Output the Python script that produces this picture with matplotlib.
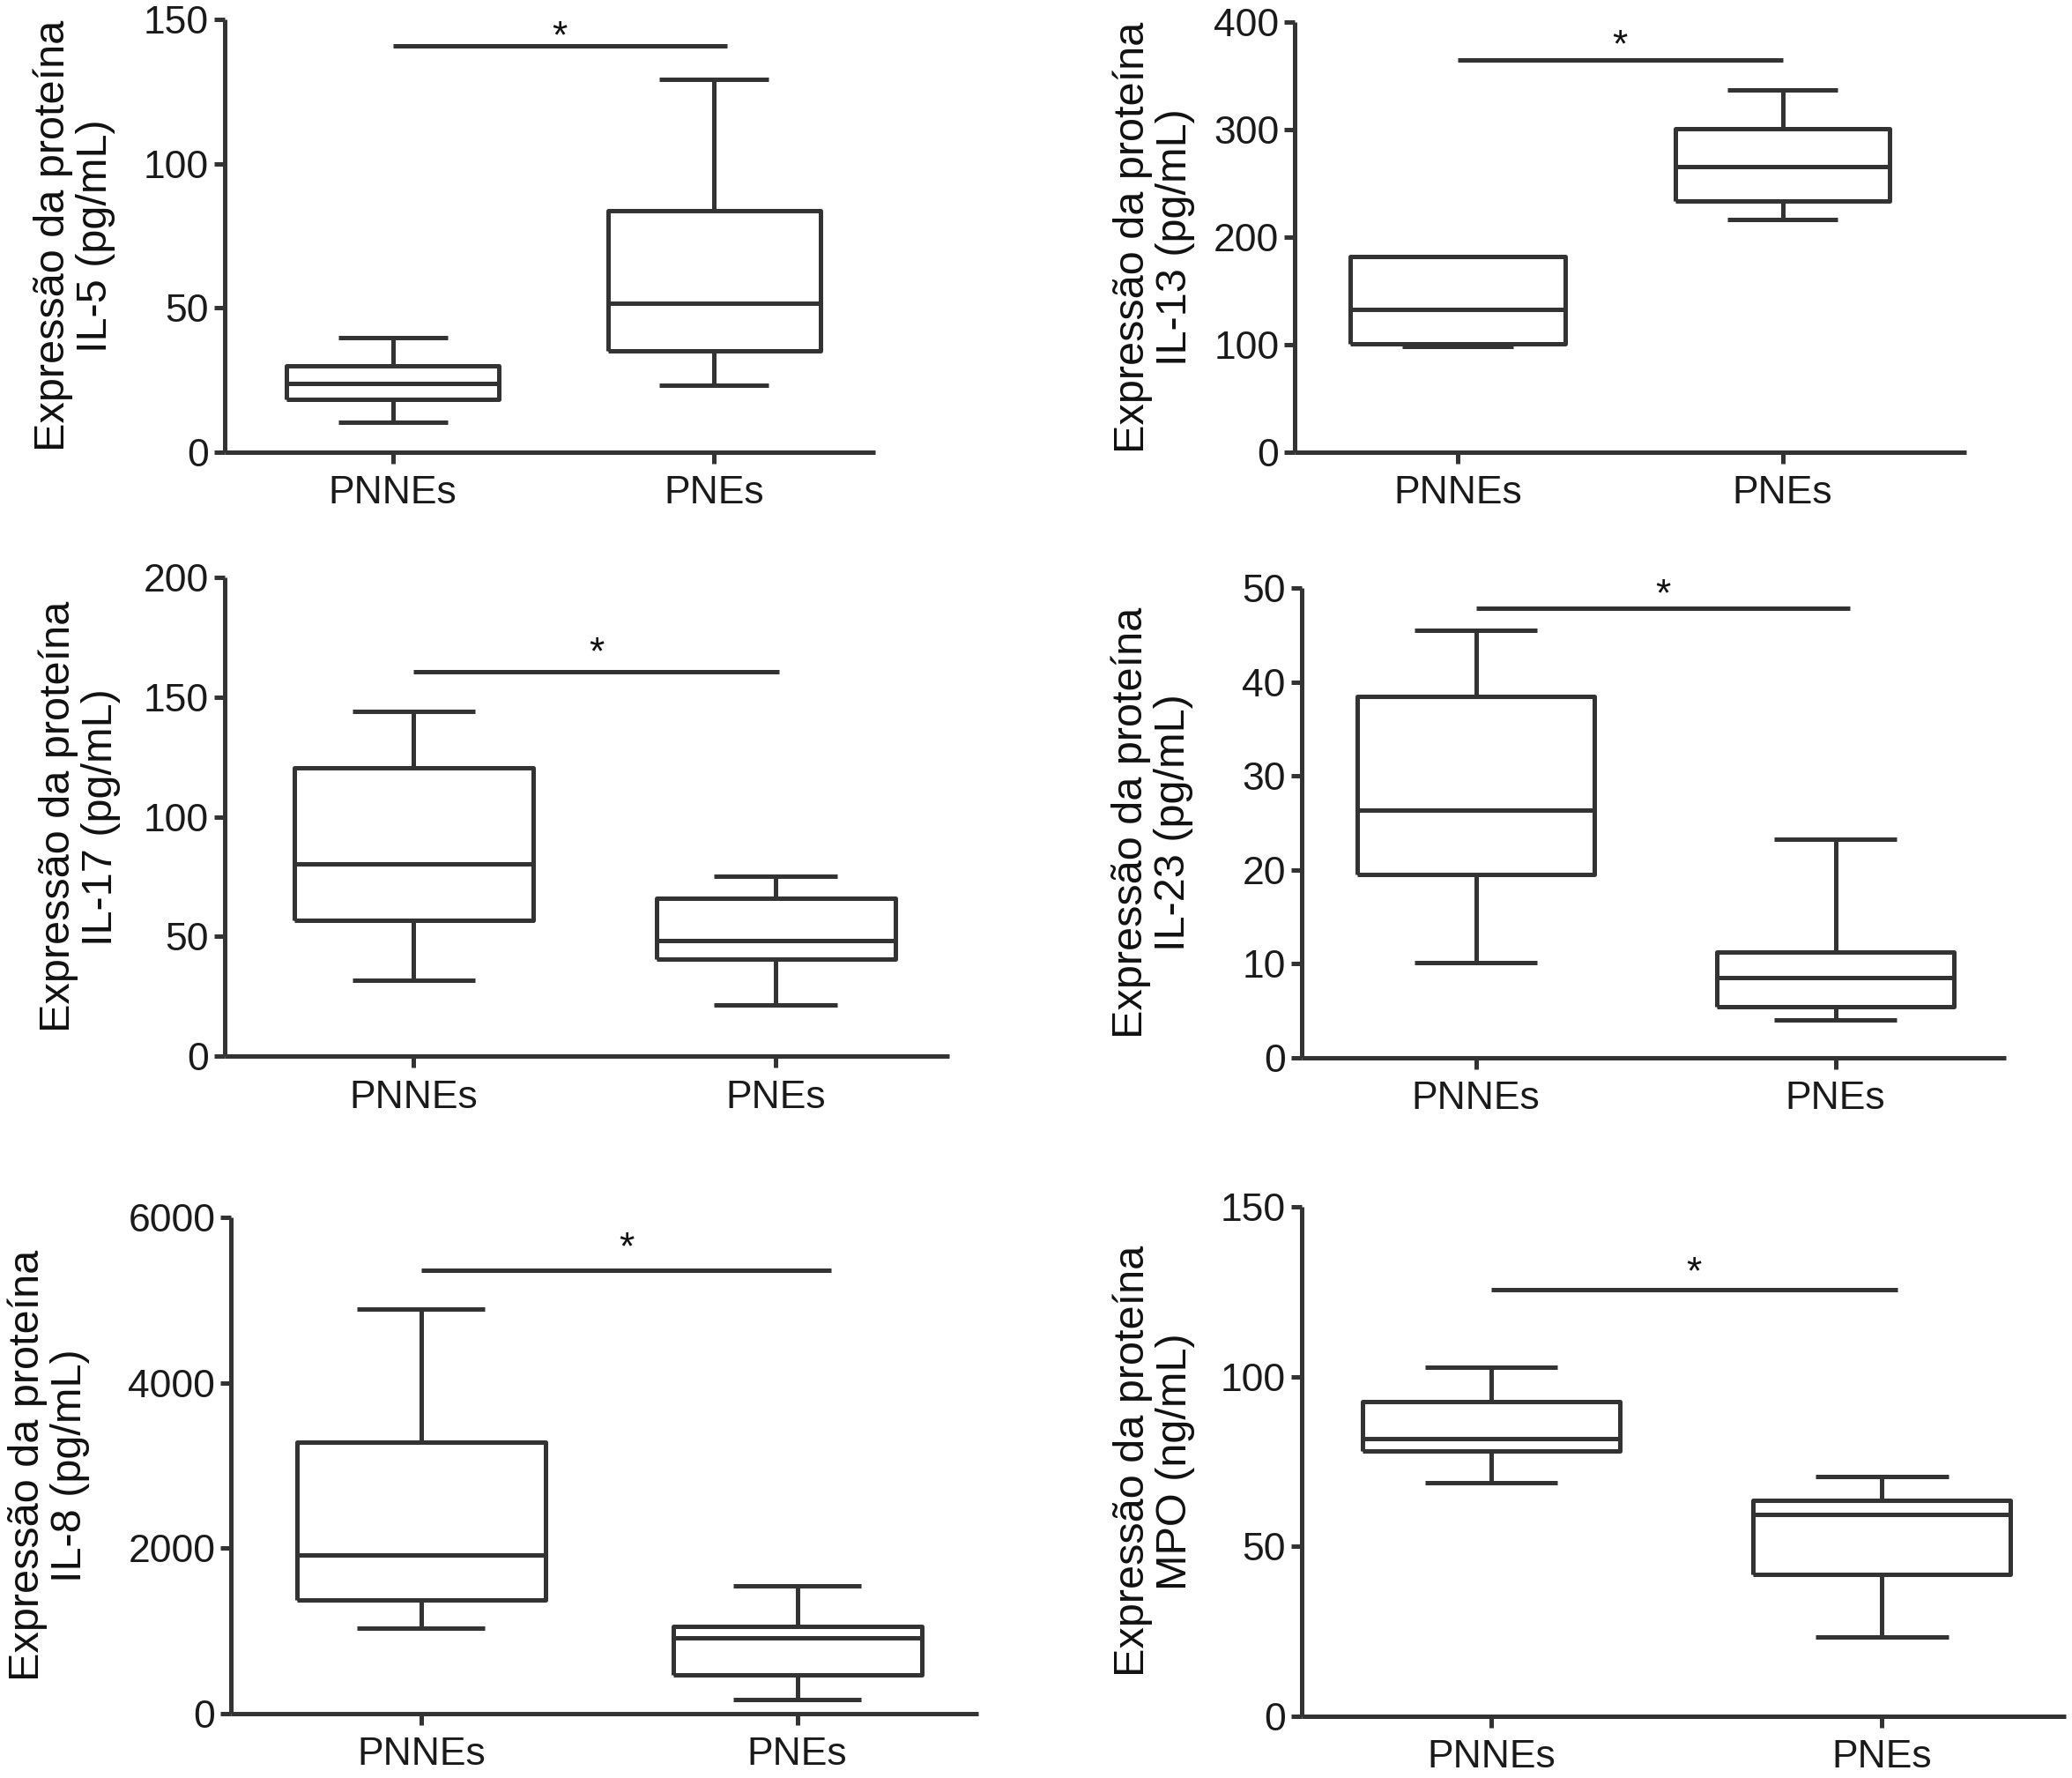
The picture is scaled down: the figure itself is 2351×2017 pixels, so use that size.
import matplotlib
matplotlib.use("Agg")
import matplotlib.pyplot as plt

# categorias
groups = ["PNNEs", "PNEs"]

# valores: [minimo, Q1, mediana, Q3, maximo]
il5_pnnes = [10.5, 18.4, 23.8, 29.9, 39.6]
il5_pnes = [23.1, 35.2, 51.8, 83.8, 129.5]
il13_pnnes = [98, 100.5, 132.6, 182.2, 182.2]
il13_pnes = [216.8, 233.5, 266, 301, 337.2]
il17_pnnes = [31.7, 56.8, 80.3, 120.4, 144.3]
il17_pnes = [21.5, 40.6, 48.4, 65.9, 75.4]
il23_pnnes = [10.1, 19.5, 26.4, 38.5, 45.5]
il23_pnes = [4.0, 5.4, 8.5, 11.2, 23.3]
il8_pnnes = [1027, 1367, 1913, 3280, 4890]
il8_pnes = [163, 467, 915, 1055, 1540]
mpo_pnnes = [68.8, 78.1, 81.6, 92.6, 102.7]
mpo_pnes = [23.2, 41.6, 59.3, 63.5, 70.5]

# altura da barra de significancia
sig_levels = [141, 365, 160.7, 47.9, 5357, 125.7]

ylabels = [
    "Expressão da proteína\nIL-5 (pg/mL)",
    "Expressão da proteína\nIL-13 (pg/mL)",
    "Expressão da proteína\nIL-17 (pg/mL)",
    "Expressão da proteína\nIL-23 (pg/mL)",
    "Expressão da proteína\nIL-8 (pg/mL)",
    "Expressão da proteína\nMPO (ng/mL)",
]
yticks = [
    [0, 50, 100, 150],
    [0, 100, 200, 300, 400],
    [0, 50, 100, 150, 200],
    [0, 10, 20, 30, 40, 50],
    [0, 2000, 4000, 6000],
    [0, 50, 100, 150],
]
panels = [
    (il5_pnnes, il5_pnes),
    (il13_pnnes, il13_pnes),
    (il17_pnnes, il17_pnes),
    (il23_pnnes, il23_pnes),
    (il8_pnnes, il8_pnes),
    (mpo_pnnes, mpo_pnes),
]

# layout (fracoes da figura) e limites x
W, H = 1568.0, 1345.0
boxes_px = [  # left, right, bottom, top em px da imagem de referencia
    (170, 662, 342, 15),
    (980, 1488, 342, 17),
    (170, 718, 799, 437),
    (985, 1518, 800, 445),
    (175, 740, 1296, 921),
    (985, 1563, 1298, 913),
]
xlims = [(0.477, 2.50), (0.50, 2.565), (0.478, 2.478),
         (0.515, 2.474), (0.495, 2.48), (0.515, 2.47)]
label_x = [56, 873, 60, 872, 37, 873]
sig_end = [2.04, 2.0, 2.01, 2.04, 2.09, 2.04]
star_off = [-8, -4, 0, -5, 3, -2]

col = "#333333"
lw = 3.6
tick_font = ["Liberation Sans Narrow", "Liberation Sans", "DejaVu Sans"]

fig = plt.figure(figsize=(23.51, 20.17), dpi=100)

for i, (a, b) in enumerate(panels):
    l, r, bo, t = boxes_px[i]
    ax = fig.add_axes([l / W, 1 - bo / H, (r - l) / W, (bo - t) / H])
    stats = []
    for name, v in zip(groups, (a, b)):
        stats.append(dict(label=name, whislo=v[0], q1=v[1], med=v[2],
                          q3=v[3], whishi=v[4], fliers=[]))
    line_kw = dict(color=col, linewidth=lw, solid_capstyle="butt")
    ax.bxp(stats, positions=[1, 2], widths=0.66, capwidths=0.34,
           showfliers=False, boxprops=line_kw, whiskerprops=line_kw,
           capprops=line_kw, medianprops=line_kw)

    ax.set_xlim(*xlims[i])
    ax.set_ylim(0, yticks[i][-1])
    ax.set_yticks(yticks[i])
    ax.set_xticks([1, 2])
    ax.set_xticklabels(groups)
    for s in ["top", "right"]:
        ax.spines[s].set_visible(False)
    for s in ["left", "bottom"]:
        ax.spines[s].set_color(col)
        ax.spines[s].set_linewidth(lw)
        ax.spines[s].set_capstyle("butt")
    ax.tick_params(axis="both", colors=col, width=lw, length=9,
                   labelcolor="#1a1a1a")
    ax.tick_params(axis="x", pad=10)
    ax.tick_params(axis="y", pad=4)
    for lab in ax.get_xticklabels() + ax.get_yticklabels():
        lab.set_family(tick_font)
        lab.set_fontsize(32)

    # barra de significancia
    ax.plot([1, sig_end[i]], [sig_levels[i]] * 2, color=col, linewidth=lw,
            solid_capstyle="butt", clip_on=False)
    ax.annotate("*", xy=((1 + sig_end[i]) / 2, sig_levels[i]),
                xytext=(0, star_off[i]), textcoords="offset points",
                ha="center", va="bottom", fontsize=32, color="#111111",
                family=tick_font)

    fig.text(label_x[i] / W, 1 - ((bo + t) / 2) / H, ylabels[i],
             rotation=90, ha="center", va="center", multialignment="center",
             fontsize=35, family=["Liberation Sans", "DejaVu Sans"],
             color="#111111", linespacing=1.08)

fig.savefig("out.png", dpi=100, facecolor="white")
